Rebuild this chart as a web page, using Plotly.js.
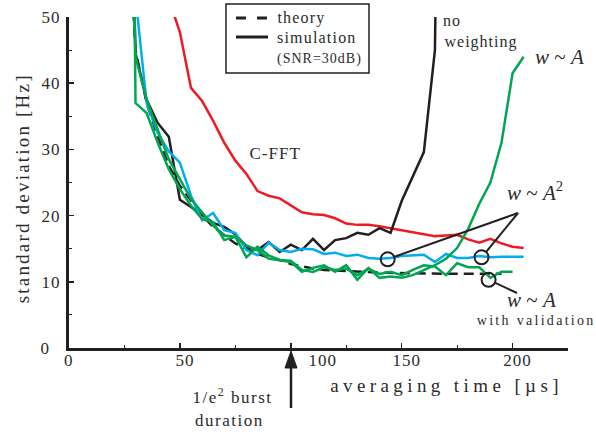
<!DOCTYPE html>
<html>
<head>
<meta charset="utf-8">
<script src="https://cdn.plot.ly/plotly-3.0.1.min.js"></script>
<style>
  html, body { margin:0; padding:0; background:#fff; }
  #chart { width:596px; height:435px; }
  .xtick text, .ytick text { letter-spacing: 1px; }
  .annotation[data-index="0"] text { letter-spacing: 4.4px; }
  .annotation[data-index="1"] text { letter-spacing: 2.2px; }
  .annotation[data-index="2"] text { letter-spacing: 1px; }
  .annotation[data-index="3"] text, .annotation[data-index="4"] text { letter-spacing: 1px; }
  .annotation[data-index="8"] text { letter-spacing: 2.3px; }
  .annotation[data-index="9"] text, .annotation[data-index="10"] text { letter-spacing: 1.5px; }
  .annotation[data-index="11"] text, .annotation[data-index="12"] text { letter-spacing: 1.2px; }
  .annotation[data-index="13"] text { letter-spacing: 1px; }
  .annotation[data-index="14"] text { letter-spacing: 1px; }
</style>
</head>
<body>
<div id="chart"></div>
<script>
// ---------------- data ----------------
const theoryT = [25,30,35,40,45,50,55,60,65,70,75,80,85,90,95,100,105,110,115,120,125,130,135,140,145,150,155,160,165,170,175,180,185,190,195];
const theoryS = [75,45,37,32,27.5,24.5,22.3,20,18.3,17,15.8,15,14.2,13.7,13.3,12.7,12.3,12.0,11.8,11.7,11.6,11.5,11.45,11.4,11.35,11.3,11.3,11.25,11.2,11.2,11.2,11.2,11.2,11.2,11.2];

const cfftT = [45,50,55,60,65,70,75,80,85,90,95,100,105,110,115,120,125,130,135,140,145,150,155,160,165,170,175,180,185,190,195,200,205];
const cfftS = [52.7,47.7,39.3,37.3,34.3,31,28.3,26.3,23.7,23.0,22.6,21.6,20.5,20.2,20.1,19.6,18.8,18.6,18.6,18.4,18.1,17.8,17.5,17.2,16.9,17.0,17.1,16.4,15.9,16.5,15.8,15.3,15.1];

const noWeightT = [25,30,35,40,45,50,55,60,65,70,75,80,85,90,95,100,105,110,115,120,125,130,135,140,145,150,160,165,166];
const noWeightS = [110,44.5,37.5,34,31.9,22.4,21.3,20.1,18.9,18.3,17.2,15.3,14.8,16.0,14.5,15.6,14.8,16.5,14.8,16.3,16.6,17.4,17.1,18.1,17.4,22.2,29.6,45,70];

const wA2T = [30,35,40,45,50,55,60,65,70,75,80,85,90,95,100,105,110,115,120,125,130,135,140,145,150,155,160,165,170,175,180,185,190,195,200,205];
const wA2S = [53,37,32.5,29.7,28,23,19.3,20.4,17.8,17.4,14.8,14.0,15.9,14.8,14.5,15.0,14.9,14.2,14.4,13.9,14.1,13.6,13.5,13.6,13.9,14.0,14.1,13.0,14.2,13.6,13.6,13.9,13.7,13.8,13.8,13.8];

const wAT = [25,30,35,40,45,50,55,60,65,70,75,80,85,90,95,100,105,110,115,120,125,130,135,140,145,150,155,160,165,170,175,180,185,190,195,200,205];
const wAS = [110,44,37.5,33,28.5,25.5,22.5,20.5,18.5,17,16.8,15.5,14.8,13.5,13.3,13.0,11.5,12.1,12.5,11.5,12.5,10.3,12.1,10.6,10.8,10.6,11.0,11.7,12.5,13.5,15.1,18.0,21.8,25.0,31.0,41.5,44.0];

const wAvT = [25,30,35,40,45,50,55,60,65,70,75,80,85,90,95,100,105,110,115,120,125,130,135,140,145,150,155,160,165,170,175,180,185,190,195,200];
const wAvS = [200,37,35.5,31,27,24,21.5,19.5,19,16.3,16.8,13.7,15.3,14.0,13.3,13.2,11.8,11.5,12.2,11.8,12.0,11.0,12.0,11.2,11.5,11.0,11.8,12.5,12.3,11.0,12.8,12.2,12.2,10.6,11.5,11.5];

const xTickVals = [0,50,100,150,200];
const xTickText = ['0\u00a0\u00a0','50','100','150','200'];
const yTickVals = [0,10,20,30,40,50];
const yTickText = ['0\u00a0\u00a0','10','20','30','40','50'];

// ---------------- styling ----------------
const SERIF = 'Liberation Serif, Times New Roman, serif';
const INK = '#231f20';
const TXT = '#2b2b2b';
const RED = 'rgb(237,28,36)';
const GREEN = 'rgb(0,166,81)';
const BLUE = 'rgb(0,174,239)';

function tr(x, y, color, dash) {
  return { x: x, y: y, type: 'scatter', mode: 'lines', hoverinfo: 'skip',
           line: { color: color, width: 2.5, dash: dash || 'solid' } };
}
const data = [
  tr(cfftT, cfftS, RED),
  tr(theoryT, theoryS, INK, '10px,6px'),
  tr(noWeightT, noWeightS, INK),
  tr(wA2T, wA2S, BLUE),
  tr(wAT, wAS, GREEN),
  tr(wAvT, wAvS, GREEN)
];

// plot-area pixel frame -> paper coordinates
const L = 69, R = 568, T = 17, B = 348;
const px = x => (x - L) / (R - L);
const py = y => (B - y) / (B - T);

function ann(text, x, y, size, xanchor, extra) {
  return Object.assign({ text: text, xref: 'paper', yref: 'paper', x: px(x), y: py(y),
    xanchor: xanchor || 'center', yanchor: 'middle', showarrow: false,
    font: { family: SERIF, size: size, color: TXT } }, extra || {});
}
// the "100" tick label is set to the right of the arrow, as in the reference
const xTickShown = xTickText.map((t, i) => xTickVals[i] === 100 ? '' : t);
const annotations = [
  ann('averaging time [µs]', 446, 385, 19),
  ann('standard deviation [Hz]', 22, 189, 19, 'center', { textangle: -90 }),
  ann('C-FFT', 275, 153, 17),
  ann('no', 452, 20, 16),
  ann('weighting', 481, 42, 16),
  ann('<i>w</i> ~ <i>A</i>', 533, 57, 21, 'left'),
  ann('<i>w</i> ~ <i>A</i><sup>2</sup>', 505, 192, 21, 'left'),
  ann('<i>w</i> ~ <i>A</i>', 505, 300, 21, 'left'),
  ann('with validation', 536, 320, 14),
  ann('1/e<sup>2</sup> burst', 232, 396, 17),
  ann('duration', 229, 420, 17),
  ann('theory', 301, 18, 16),
  ann('simulation', 317, 37, 16),
  ann('(SNR=30dB)', 319, 59, 14),
  ann(xTickText[2], 323, 360, 17)
];

function seg(x0, y0, x1, y1, w, dash) {
  return { type: 'line', xref: 'paper', yref: 'paper', x0: px(x0), y0: py(y0), x1: px(x1), y1: py(y1),
           line: { color: INK, width: w, dash: dash || 'solid' } };
}
function ring(cx, cy) {
  return { type: 'circle', xref: 'x', yref: 'y', xsizemode: 'pixel', ysizemode: 'pixel',
           xanchor: cx, yanchor: cy, x0: -7, x1: 7, y0: -7, y1: 7,
           line: { color: INK, width: 2 } };
}
const shapes = [
  { type: 'rect', xref: 'paper', yref: 'paper', x0: px(226), x1: px(369), y0: py(73), y1: py(4),
    line: { color: INK, width: 1.5 }, fillcolor: 'rgba(255,255,255,0)' },
  seg(236, 18, 268, 18, 3, '10px,11px'),
  seg(236, 37, 268, 37, 3),
  ring(143.7, 13.4),
  ring(186.0, 13.7),
  ring(189.2, 10.3),
  seg(518, 213, 394.6, 256.7, 2),
  seg(518, 213, 486.4, 251.6, 2),
  seg(495.3, 282.9, 517, 293, 2),
  seg(291, 366, 291, 408, 2.5),
  { type: 'path', xref: 'paper', yref: 'paper',
    path: 'M ' + px(285) + ',' + py(368) + ' L ' + px(297) + ',' + py(368) + ' L ' + px(291) + ',' + py(351) + ' Z',
    fillcolor: INK, line: { color: INK, width: 1 } }
];

const axisBase = {
  showline: true, linecolor: INK, linewidth: 3, mirror: false,
  ticks: 'inside', ticklen: 5, tickwidth: 1.5, tickcolor: INK,
  showgrid: false, zeroline: false, fixedrange: true,
  tickfont: { family: SERIF, size: 17, color: TXT }
};
const layout = {
  width: 596, height: 435,
  margin: { l: 69, r: 28, t: 17, b: 87 },
  paper_bgcolor: '#fff', plot_bgcolor: '#fff',
  showlegend: false,
  font: { family: SERIF, color: TXT },
  xaxis: Object.assign({}, axisBase, {
    range: [0, 225], tickmode: 'array', tickvals: xTickVals, ticktext: xTickShown,
    ticklabelshift: 5, ticklabelstandoff: -5,
    minor: { tickvals: [25, 75, 125, 175], ticks: 'inside', ticklen: 3, tickwidth: 1.2, tickcolor: INK, showgrid: false }
  }),
  yaxis: Object.assign({}, axisBase, {
    range: [0, 50], tickmode: 'array', tickvals: yTickVals, ticktext: yTickText, ticklabelstandoff: 2,
    minor: { tickvals: [5, 15, 25, 35, 45], ticks: 'inside', ticklen: 3, tickwidth: 1.2, tickcolor: INK, showgrid: false }
  }),
  annotations: annotations,
  shapes: shapes
};
Plotly.newPlot('chart', data, layout, { staticPlot: true, displayModeBar: false });
</script>
</body>
</html>
